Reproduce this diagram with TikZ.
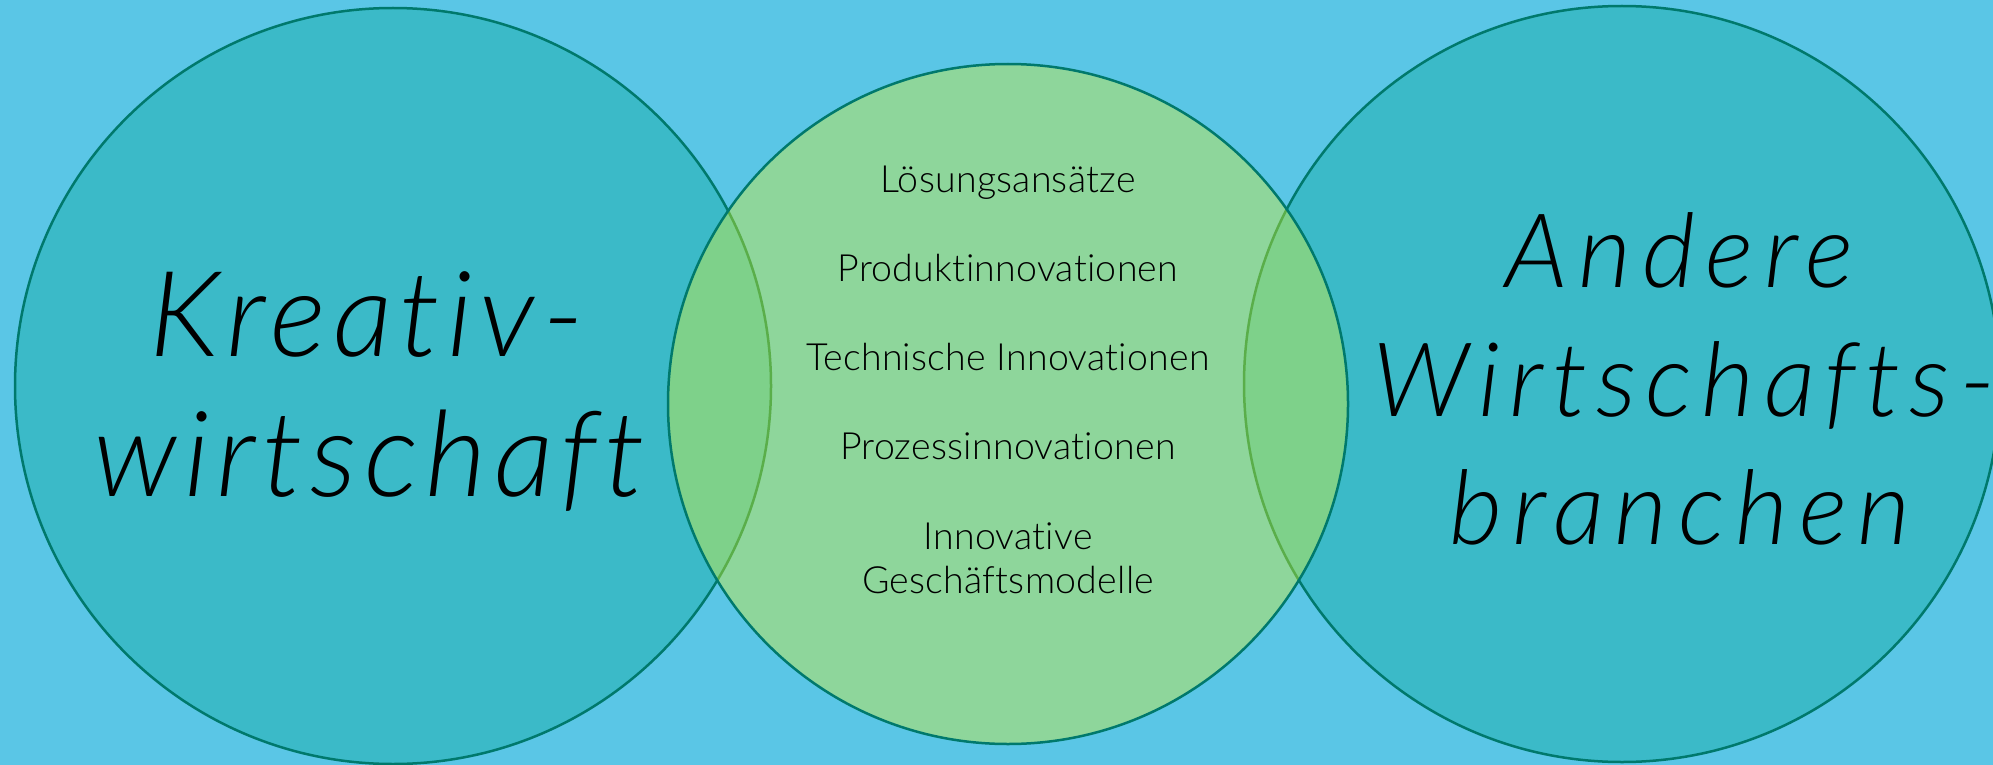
\documentclass[tikz,border=0pt]{standalone}
\usepackage{fontspec}
\setmainfont{Lato}[UprightFont={* Light},ItalicFont={* Light Italic},Ligatures=NoCommon]
\definecolor{bgblue}{HTML}{5AC6E6}
\definecolor{tealfill}{HTML}{3BBAC8}
\definecolor{tealline}{HTML}{00796C}
\definecolor{midgreen}{HTML}{8ED69B}
\definecolor{ovgreen}{HTML}{7ED18A}
\definecolor{ovline}{HTML}{5AAE4A}
\tikzset{
  outer/.style={circle, draw=tealline, fill=tealfill, line width=2.5pt, inner sep=0pt},
  bigtxt/.style={anchor=base, inner sep=0pt, font=\fontsize{119}{119}\selectfont\itshape\addfontfeature{LetterSpace=6}},
  bigtxtr/.style={anchor=base, inner sep=0pt, font=\fontsize{103}{103}\selectfont\itshape\addfontfeature{LetterSpace=10}},
  smalltxt/.style={anchor=base, inner sep=0pt, font=\fontsize{37.5}{37.5}\selectfont\addfontfeature{LetterSpace=0.7}},
}
\begin{document}
\begin{tikzpicture}[x=1pt,y=-1pt]
\fill[bgblue] (0,0) rectangle (1993,765);
\useasboundingbox (0,0) rectangle (1993,765);
% outer circles
\node[outer, minimum size=756pt] (L) at (393,386) {};
\node[outer, minimum size=756pt] (R) at (1622,384) {};
% middle circle
\fill[midgreen] (1008,404) circle (340);
\begin{scope}
  \clip (1008,404) circle (340);
  \fill[ovgreen] (393,386) circle (378);
  \fill[ovgreen] (1622,384) circle (378);
  \draw[ovline, line width=2.5pt] (393,386) circle (378);
  \draw[ovline, line width=2.5pt] (1622,384) circle (378);
\end{scope}
\node[circle, draw=tealline, line width=2.5pt, minimum size=680pt, inner sep=0pt] (M) at (1008,404) {};
% left text
\node[bigtxt] (l1) at (367,356) {Kreativ-};
\node[bigtxt] (l2) at (369,496) {wirtschaft};
% right text
\node[bigtxtr] (r1) at (1680,287) {Andere};
\node[bigtxtr, font=\fontsize{103}{103}\selectfont\itshape\addfontfeature{LetterSpace=8.8}] (r2) at (1684,416) {Wirtschafts-};
\node[bigtxtr] (r3) at (1680,544) {branchen};
% middle text
\node[smalltxt] (m1) at (1008,192) {Lösungsansätze};
\node[smalltxt] (m2) at (1008,281) {Produktinnovationen};
\node[smalltxt] (m3) at (1008,370) {Technische Innovationen};
\node[smalltxt] (m4) at (1008,459) {Prozessinnovationen};
\node[smalltxt] (m5) at (1008,549) {Innovative};
\node[smalltxt] (m6) at (1008,593) {Geschäftsmodelle};
\end{tikzpicture}
\end{document}
